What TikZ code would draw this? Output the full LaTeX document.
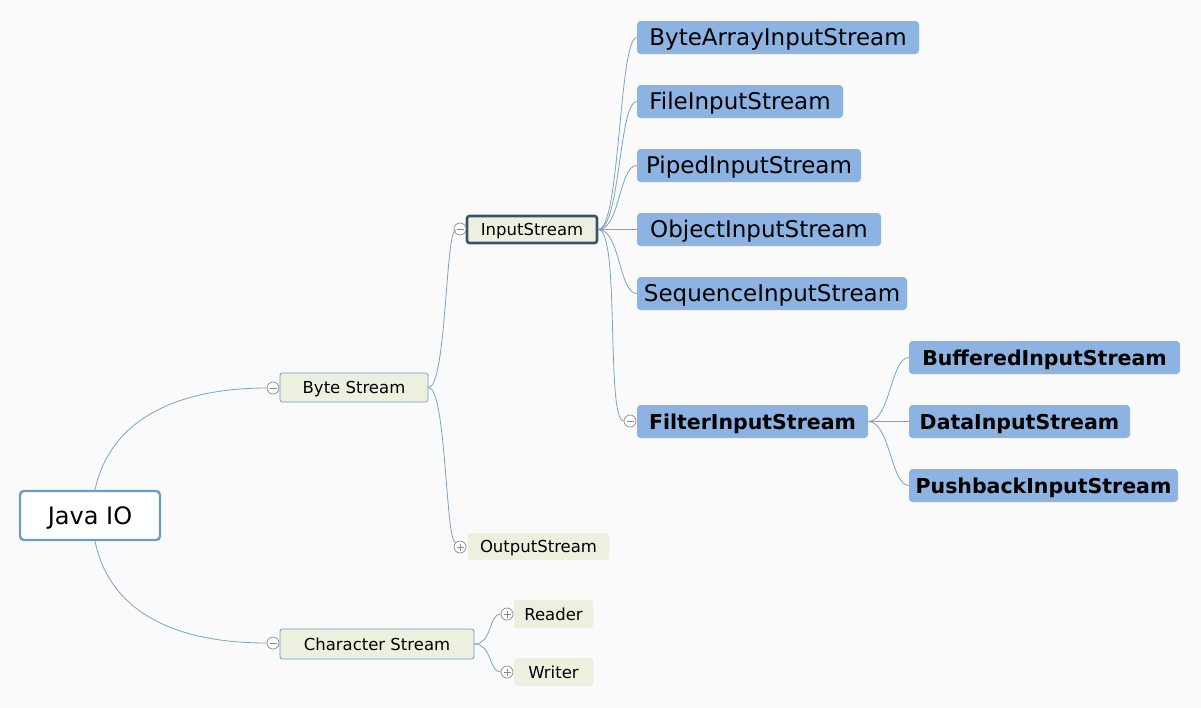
\documentclass[tikz,border=0pt]{standalone}
\usepackage{fontspec}
\setmainfont{DejaVu Sans}
\definecolor{bgc}{HTML}{FAFAFA}
\definecolor{bluefill}{HTML}{8DB3E2}
\definecolor{greenfill}{HTML}{EBF1DE}
\definecolor{linkc}{HTML}{7BA3C6}
\definecolor{rootc}{HTML}{6F9DC2}
\definecolor{darkc}{HTML}{3B5368}
\definecolor{knobc}{HTML}{8A8A8A}
\begin{document}
\begin{tikzpicture}[x=1pt,y=-1pt,
  rootbox/.style={draw=rootc,line width=2.4pt,fill=white,rounded corners=4pt,inner sep=0pt,font=\fontsize{24}{28}\selectfont,text height=17.5pt,text depth=0pt},
  greenbox/.style={fill=greenfill,rounded corners=2.5pt,inner sep=0pt,font=\fontsize{16.5}{20}\selectfont,text height=12pt,text depth=0pt},
  greenframed/.style={greenbox,draw=rootc,line width=0.8pt},
  bluebox/.style={fill=bluefill,rounded corners=3.5pt,inner sep=0pt,font=\fontsize{23}{27}\selectfont,text height=16.8pt,text depth=0pt},
  boldblue/.style={bluebox,font=\fontsize{20.5}{25}\selectfont\bfseries,text height=15pt},
  knob/.style={circle,draw=knobc,fill=white,line width=0.7pt,minimum size=12pt,inner sep=0pt},
  link/.style={draw=linkc,line width=0.8pt}]
\useasboundingbox (0,0) rectangle (1201,707);
\fill[bgc] (0,0) rectangle (1201,707);

% root
\node[rootbox,minimum width=140,minimum height=49] (java) at (90,515.5) {Java IO};

% level 1
\node[greenframed,minimum width=148,minimum height=29] (byte) at (354,387.5) {Byte Stream};
\node[knob] (kbyte) at (273,388) {};
\node[greenframed,minimum width=194,minimum height=30] (char) at (377,644) {Character Stream};
\node[knob] (kchar) at (273,643) {};

% level 2
\node[greenbox,draw=darkc,line width=2.6pt,minimum width=130,minimum height=27] (in) at (532,229.5) {InputStream};
\node[knob] (kin) at (460,229) {};
\node[greenbox,minimum width=141,minimum height=27] (out) at (538.5,546.5) {OutputStream};
\node[knob] (kout) at (460,547) {};
\node[greenbox,minimum width=79,minimum height=28] (reader) at (553.5,614) {Reader};
\node[knob] (kreader) at (507,614) {};
\node[greenbox,minimum width=79,minimum height=28] (writer) at (553.5,672) {Writer};
\node[knob] (kwriter) at (507,672) {};

% input stream children
\node[bluebox,minimum width=282,minimum height=33] (bais) at (778,37.5) {ByteArrayInputStream};
\node[bluebox,minimum width=206,minimum height=33] (fis) at (740,101.5) {FileInputStream};
\node[bluebox,minimum width=224,minimum height=33] (pis) at (749,165.5) {PipedInputStream};
\node[bluebox,minimum width=244,minimum height=33] (ois) at (759,229.5) {ObjectInputStream};
\node[bluebox,minimum width=270,minimum height=33] (sis) at (772,293.5) {SequenceInputStream};
\node[boldblue,minimum width=231,minimum height=33] (filt) at (752.5,421.5) {FilterInputStream};
\node[knob] (kfilt) at (630,421) {};

% filter children
\node[boldblue,minimum width=271,minimum height=33] (buf) at (1044.5,357.5) {BufferedInputStream};
\node[boldblue,minimum width=221,minimum height=33] (dis) at (1019.5,421.5) {DataInputStream};
\node[boldblue,minimum width=269,minimum height=33] (push) at (1043.5,485.5) {PushbackInputStream};

% minus / plus signs
\foreach \k in {kbyte,kchar,kin,kfilt}{
  \draw[knobc,line width=0.7pt] ([xshift=-3.5pt]\k.center) -- ([xshift=3.5pt]\k.center);
}
\foreach \k in {kout,kreader,kwriter}{
  \draw[knobc,line width=0.7pt] ([xshift=-3.5pt]\k.center) -- ([xshift=3.5pt]\k.center)
    ([yshift=-3.5pt]\k.center) -- ([yshift=3.5pt]\k.center);
}

% connectors
\path[link] ([xshift=5pt]java.north) .. controls +(15,-70) and +(-90,0) .. (kbyte.west);
\path[link] ([xshift=5pt]java.south) .. controls +(15,72) and +(-90,0) .. (kchar.west);

\path[link] (byte.east) .. controls +(18,0) and +(-10,0) .. ([yshift=3pt]kin.south west);
\path[link] (byte.east) .. controls +(18,0) and +(-10,0) .. (kout.north west);

\path[link] (char.east) .. controls +(18,0) and +(-12,0) .. (kreader.west);
\path[link] (char.east) .. controls +(18,0) and +(-12,0) .. (kwriter.west);

\foreach \c in {bais,fis,pis,ois,sis}{
  \path[link] (in.east) .. controls +(22,0) and +(-18,0) .. (\c.west);
}
\path[link] (in.east) .. controls +(22,0) and +(-18,0) .. (kfilt.west);

\foreach \c in {buf,dis,push}{
  \path[link] (filt.east) .. controls +(22,0) and +(-18,0) .. (\c.west);
}
\end{tikzpicture}
\end{document}
